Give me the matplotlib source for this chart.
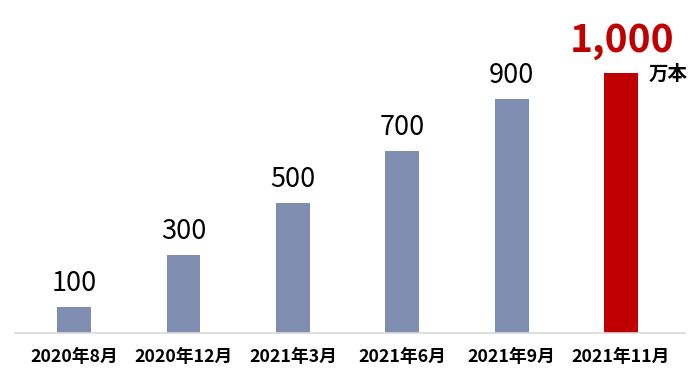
import matplotlib
matplotlib.use('Agg')
import matplotlib.pyplot as plt

# data
periodos = ['2020年8月', '2020年12月', '2021年3月', '2021年6月', '2021年9月', '2021年11月']
valores = [100, 300, 500, 700, 900, 1000]
rotulos = ['100', '300', '500', '700', '900', '1,000']
unidade = '万本'

plt.rcParams['font.family'] = ['Noto Sans CJK JP', 'DejaVu Sans']

fig = plt.figure(figsize=(7, 3.84), dpi=100)
ax = fig.add_axes([15 / 700, 1 - 333 / 384, 670 / 700, 333 / 384])

cores = ['#7F8EB0'] * (len(valores) - 1) + ['#C00000']
x = list(range(len(valores)))
ax.bar(x, valores, width=0.31, color=cores)

for i, (v, r) in enumerate(zip(valores, rotulos)):
    if i == len(valores) - 1:
        ax.annotate(r, (i, v), textcoords='offset points', xytext=(1, 9), ha='center', va='bottom',
                    fontsize=28, fontweight='bold', color='#C00000')
    else:
        ax.annotate(r, (i, v), textcoords='offset points', xytext=(0, 7), ha='center', va='bottom',
                    fontsize=19.5, color='black')

ax.annotate(unidade, (len(valores) - 1, valores[-1]), textcoords='offset points', xytext=(20, -1),
            ha='left', va='center', fontsize=14, fontweight='bold', color='black')

ax.set_xlim(-0.54, 5.585)
ax.set_ylim(0, 1280)
ax.set_xticks(x)
ax.set_xticklabels(periodos, fontsize=12.8, fontweight='bold')
ax.tick_params(axis='x', length=0, pad=11)
ax.set_yticks([])
for s in ['top', 'right', 'left']:
    ax.spines[s].set_visible(False)
ax.spines['bottom'].set_color('#D9D9D9')
ax.spines['bottom'].set_linewidth(1.2)

fig.savefig('out.png', dpi=100)
plt.close()
